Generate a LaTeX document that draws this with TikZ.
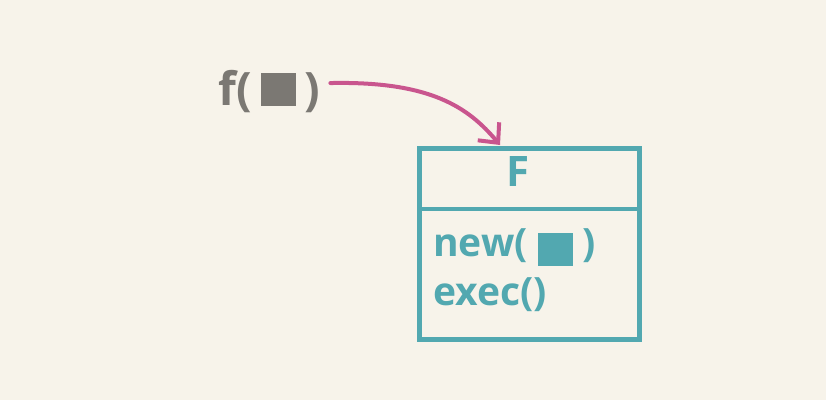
\documentclass[tikz,border=0pt]{standalone}
\usepackage{fontspec}
\setmainfont{Open Sans}
\usetikzlibrary{arrows.meta, positioning, calc}
\definecolor{paper}{HTML}{F7F3EA}
\definecolor{clsteal}{HTML}{52A8B0}
\definecolor{callgray}{HTML}{7B7873}
\definecolor{callpink}{HTML}{C9558E}

\begin{document}
\begin{tikzpicture}[x=1pt, y=-1pt,
    label/.style={inner sep=0pt, font=\bfseries\fontsize{#1}{#1}\selectfont},
    classbox/.style={draw=clsteal, line width=4.5pt, inner sep=0pt},
    callarrow/.style={draw=callpink, line width=4pt, line cap=round,
        -{Straight Barb[length=15pt, width=28pt, line width=4pt]}}]
    \fill[paper] (0,0) rectangle (826,400);

    \node[classbox, minimum width=220pt, minimum height=191pt] (cls) at (529.5,244) {};
    \coordinate (mid) at (529.5,209);
    \draw[clsteal, line width=4.5pt] (cls.west |- mid) -- (cls.east |- mid);

    \node[label=42, text=clsteal] (title) at (518,171.5) {F};
    \node[label=39, text=clsteal, anchor=base west] (mnew) at (433,256)
        {new(\hspace{10pt}\rule[-10pt]{35pt}{33pt}\hspace{10pt})};
    \node[label=39, text=clsteal, anchor=base west] (mexec) at (433,305) {exec()};

    \node[label=46, text=callgray, anchor=base west] (fcall) at (218,105)
        {f(\hspace{9pt}\rule[-1pt]{35pt}{33pt}\hspace{9pt})};

    \coordinate (hit) at (500,145);
    \draw[callarrow] ([xshift=10pt, yshift=8pt]fcall.east) .. controls +(100,-2) and +(-32,-38) .. (hit);
\end{tikzpicture}
\end{document}
